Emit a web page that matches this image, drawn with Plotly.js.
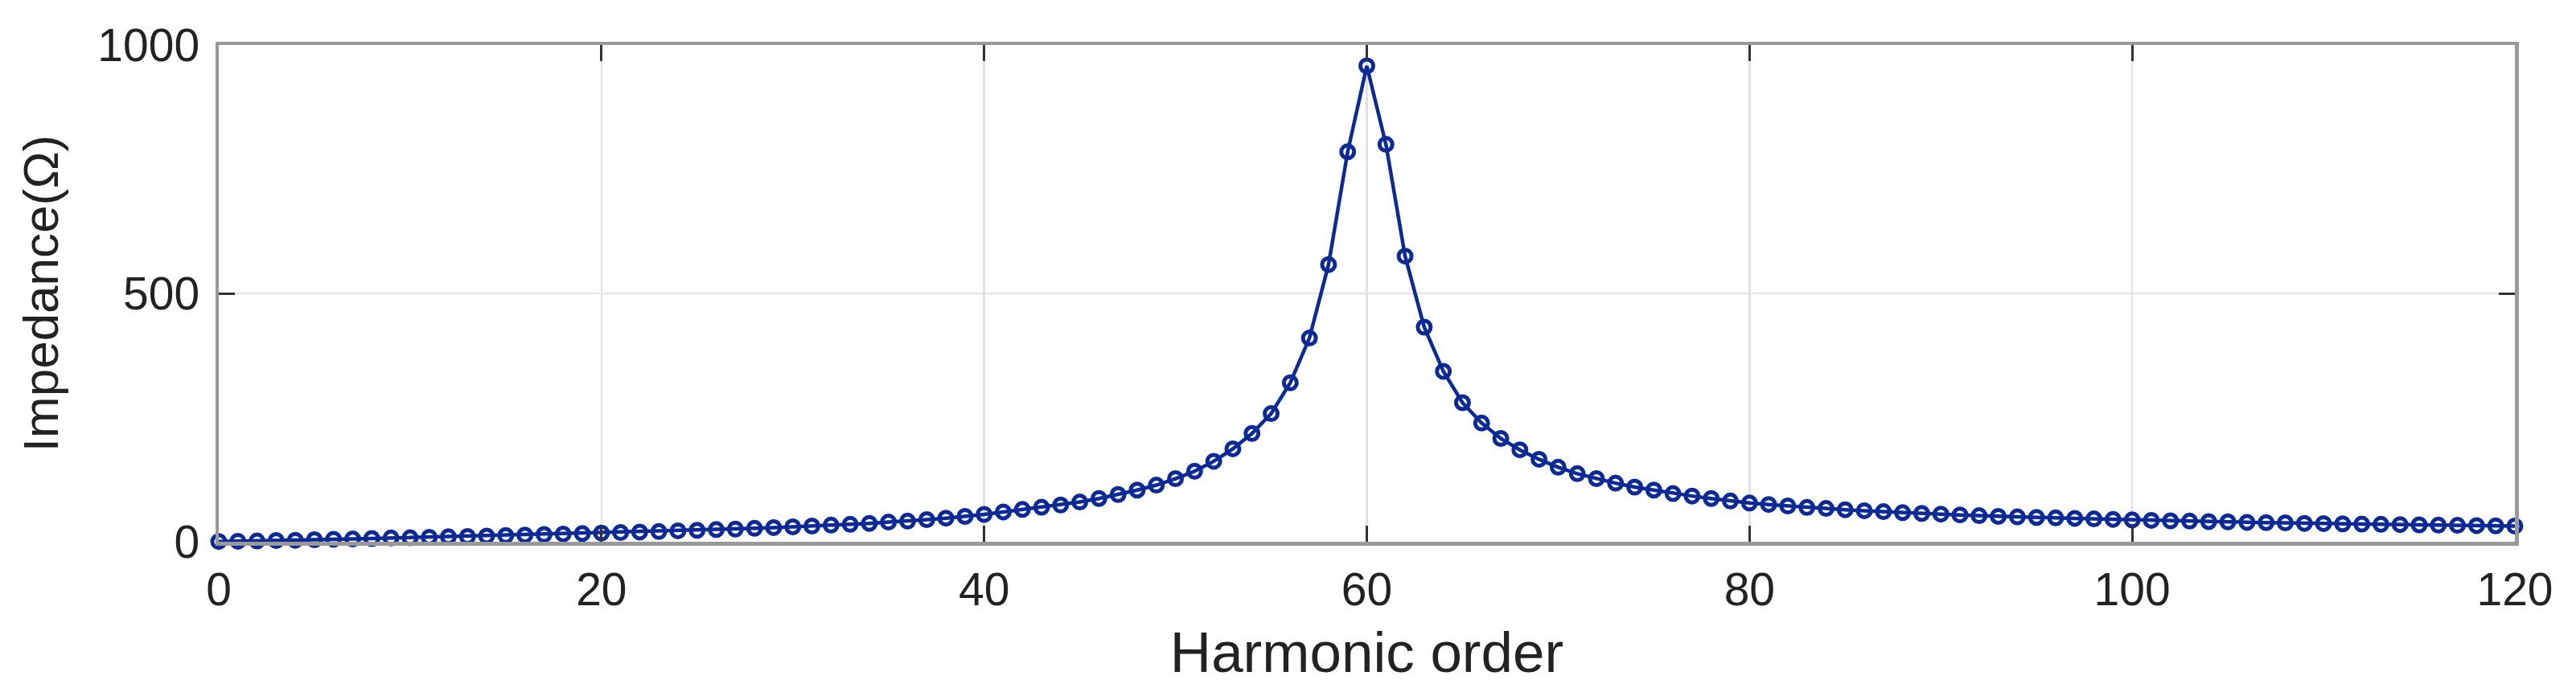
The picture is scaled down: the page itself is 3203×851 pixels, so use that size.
<!DOCTYPE html>
<html>
<head>
<meta charset="utf-8">
<script src="https://cdn.plot.ly/plotly-3.0.1.min.js"></script>
<style>
  html, body { margin: 0; padding: 0; background: #ffffff; }
  #chart { width: 3203px; height: 851px; }
</style>
</head>
<body>
<div id="chart"></div>
<script>
// Harmonic order (x) and impedance magnitude in ohms (y)
const harmonicOrder = [
  0, 1, 2, 3, 4, 5, 6, 7, 8, 9,
  10, 11, 12, 13, 14, 15, 16, 17, 18, 19,
  20, 21, 22, 23, 24, 25, 26, 27, 28, 29,
  30, 31, 32, 33, 34, 35, 36, 37, 38, 39,
  40, 41, 42, 43, 44, 45, 46, 47, 48, 49,
  50, 51, 52, 53, 54, 55, 56, 57, 58, 59,
  60, 61, 62, 63, 64, 65, 66, 67, 68, 69,
  70, 71, 72, 73, 74, 75, 76, 77, 78, 79,
  80, 81, 82, 83, 84, 85, 86, 87, 88, 89,
  90, 91, 92, 93, 94, 95, 96, 97, 98, 99,
  100, 101, 102, 103, 104, 105, 106, 107, 108, 109,
  110, 111, 112, 113, 114, 115, 116, 117, 118, 119,
  120
];

const impedance = [
  0.5, 1, 1.5, 2.5, 3, 4, 5, 5.5, 6.5, 7.5,
  8, 9, 10, 10.5, 11.5, 12.5, 13.5, 14.5, 15.5, 16.5,
  17.5, 18.5, 19.5, 20.5, 22, 23, 24.5, 25.5, 27, 28.5,
  30, 31.5, 33.5, 35, 37, 39.5, 41.5, 44.5, 47.5, 51,
  55, 60, 65, 69.5, 74, 80, 87, 95, 104, 114,
  127, 142, 162, 187, 218, 258, 320, 410, 558, 785,
  958, 800, 575, 432, 343, 280, 239, 208, 185, 166,
  150, 137, 127, 118, 110, 104, 97, 92, 87, 82,
  78, 75, 72, 69, 67, 64.5, 62.5, 60.5, 58.5, 57,
  55.5, 54, 52.5, 51, 50, 49, 48, 47, 46, 45,
  44, 43, 42, 41.5, 40.5, 40, 39, 38.5, 38, 37,
  36.5, 36, 35.5, 35, 34.5, 34, 33.5, 33, 32.5, 32,
  31.5
];

const xTickValues = [0, 20, 40, 60, 80, 100, 120];
const yTickValues = [0, 500, 1000];

const xTitle = 'Harmonic order';
const yTitle = 'Impedance(Ω)';

const seriesColor = '#0b2a98';
const fontFamily = '"Liberation Sans", Arial, Helvetica, sans-serif';
const textColor = '#222222';

const trace = {
  x: harmonicOrder,
  y: impedance,
  type: 'scatter',
  mode: 'lines+markers',
  line: { color: seriesColor, width: 4.5 },
  marker: {
    symbol: 'circle-open',
    size: 16,
    color: seriesColor,
    line: { color: seriesColor, width: 5 }
  },
  cliponaxis: false,
  hoverinfo: 'x+y'
};

const axisCommon = {
  showline: true,
  linecolor: '#999999',
  linewidth: 4.5,
  mirror: 'ticks',
  ticks: 'inside',
  ticklen: 20,
  tickwidth: 3,
  tickcolor: '#333333',
  showgrid: true,
  gridcolor: '#e2e2e2',
  gridwidth: 2.5,
  zeroline: false,
  tickfont: { family: fontFamily, size: 57, color: textColor }
};

const layout = {
  width: 3203,
  height: 851,
  margin: { l: 272, r: 76, t: 56, b: 177, pad: 0 },
  paper_bgcolor: '#ffffff',
  plot_bgcolor: '#ffffff',
  showlegend: false,
  font: { family: fontFamily, color: textColor },
  xaxis: Object.assign({}, axisCommon, {
    range: [0, 120],
    tickmode: 'array',
    tickvals: xTickValues,
    ticktext: xTickValues.map(String),
    ticklabelstandoff: 6,
    title: { text: xTitle, font: { family: fontFamily, size: 71, color: textColor }, standoff: 44 }
  }),
  yaxis: Object.assign({}, axisCommon, {
    range: [0, 1000],
    tickmode: 'array',
    tickvals: yTickValues,
    ticktext: yTickValues.map(String),
    ticklabelstandoff: 8,
    title: { text: yTitle, font: { family: fontFamily, size: 62, color: textColor }, standoff: 30 }
  })
};

Plotly.newPlot('chart', [trace], layout, { displayModeBar: false, staticPlot: true });
</script>
</body>
</html>
